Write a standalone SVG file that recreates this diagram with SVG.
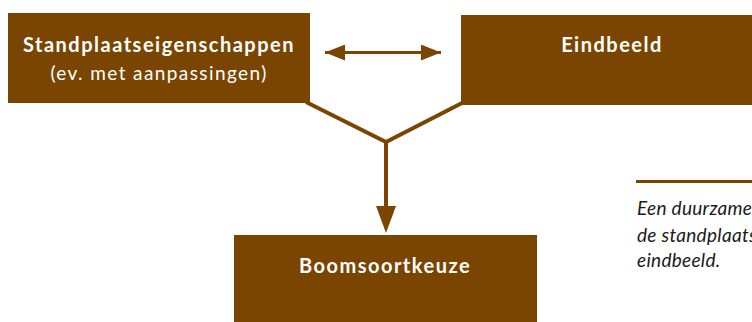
<svg xmlns="http://www.w3.org/2000/svg" width="752" height="322" viewBox="0 0 752 322">
<style>
.box{fill:#7a4500}
.lbl{font-family:Lato,"Open Sans",sans-serif;font-weight:bold;font-size:20px;fill:#fff;text-anchor:middle;letter-spacing:1.5px}
.sub{font-family:Lato,"Open Sans",sans-serif;font-size:19px;fill:#fff;text-anchor:middle;letter-spacing:1.4px}
.con{stroke:#7a4500;fill:none}
.note{font-family:Lato,"Open Sans",sans-serif;font-style:italic;font-size:19px;fill:#1a1a1a;letter-spacing:0.3px}
</style>
<defs>
<marker id="ah" markerUnits="userSpaceOnUse" markerWidth="20" markerHeight="16" refX="20" refY="8" orient="auto-start-reverse" viewBox="0 0 20 16">
<path d="M0,0 L20,8 L0,16 Z" fill="#7a4500"/>
</marker>
</defs>
<g id="connectors">
<path class="con" stroke-width="4" d="M306,102 L386,142 L464,102"/>
<path class="con" stroke-width="4" d="M386,142 L386,208"/>
<path d="M376,206 L396,206 L386,233 Z" fill="#7a4500"/>
<path class="con" stroke-width="3" d="M325,52.5 L441,52.5" marker-start="url(#ah)" marker-end="url(#ah)"/>
</g>
<g id="node-standplaats">
<rect class="box" x="8" y="13" width="302" height="90"/>
<text class="lbl" x="159" y="52">Standplaatseigenschappen</text>
<text class="sub" x="159" y="80">(ev. met aanpassingen)</text>
</g>
<g id="node-eindbeeld">
<rect class="box" x="461" y="15" width="291" height="90"/>
<text class="lbl" x="612" y="52">Eindbeeld</text>
</g>
<g id="node-boomsoortkeuze">
<rect class="box" x="234" y="235" width="303" height="87"/>
<text class="lbl" x="385" y="273">Boomsoortkeuze</text>
</g>
<g id="note">
<line x1="636" y1="181.5" x2="752" y2="181.5" stroke="#7a4500" stroke-width="3"/>
<text class="note" x="637" y="215">Een duurzame</text>
<text class="note" x="637" y="242">de standplaats</text>
<text class="note" x="637" y="267">eindbeeld.</text>
</g>
</svg>
